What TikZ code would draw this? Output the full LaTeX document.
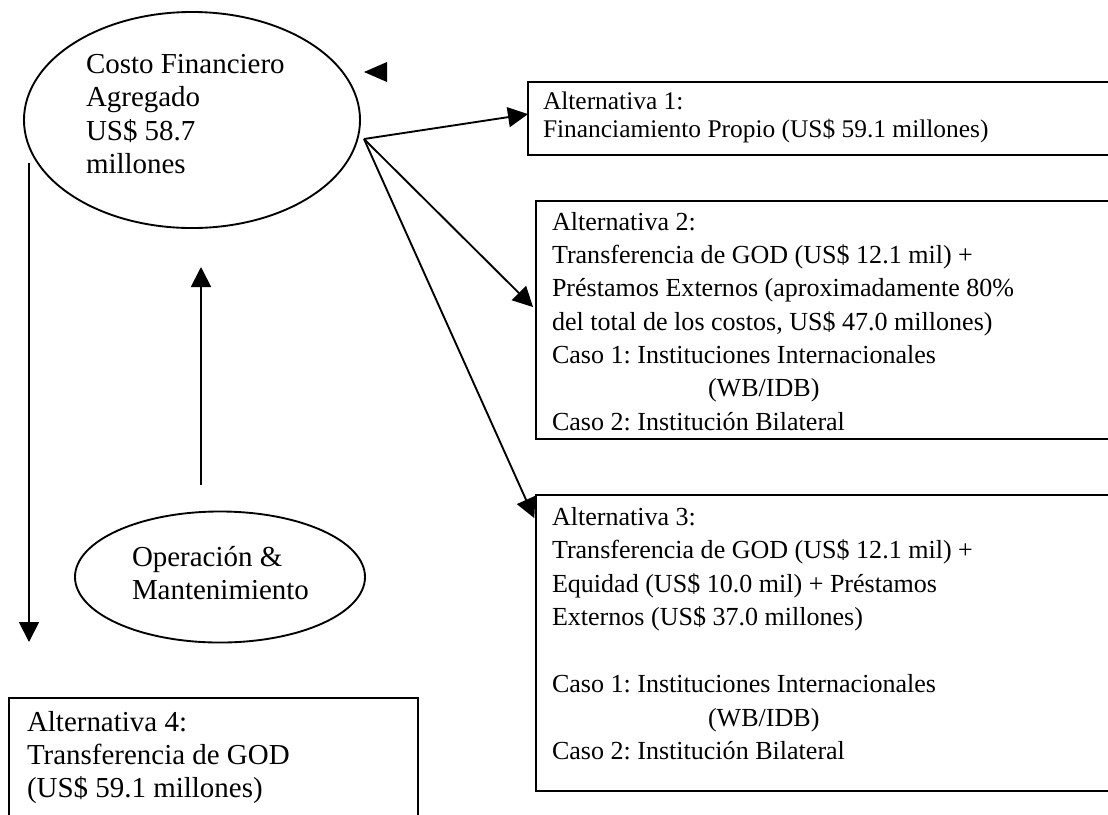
\documentclass[tikz,border=0pt]{standalone}
\usepackage{fontspec}
\setmainfont{Liberation Serif}
\usetikzlibrary{arrows.meta,calc,shapes.geometric}
\frenchspacing
\begin{document}
\begin{tikzpicture}[x=0.48pt,y=-0.48pt,
  every node/.style={inner sep=0pt, outer sep=0pt},
  line/.style={line width=0.9pt},
  arr/.style={line, -{Triangle[length=9.6pt,width=9.6pt]}},
  bubble/.style={draw, line width=0.9pt, ellipse},
  box/.style={draw, line width=0.9pt, rectangle, anchor=north west},
  txtbig/.style={anchor=north west, align=left, font=\fontsize{13.9}{16.1}\selectfont},
  txtmid/.style={anchor=north west, align=left, font=\fontsize{12.5}{16}\selectfont},
  txtsmall/.style={anchor=north west, align=left, font=\fontsize{12.2}{13.6}\selectfont},
]
\useasboundingbox (0,0) rectangle (1108,814);
\clip (0,0) rectangle (1108,814);
\fill[white] (0,0) rectangle (1108,814);

% ellipses
\node[bubble, minimum width=161.3pt, minimum height=103.7pt] (cost) at (192,120) {};
\node[txtbig] (costt) at (86,54) {Costo Financiero\\Agregado\\US\$ 58.7\\millones};

\node[bubble, minimum width=139.2pt, minimum height=62.9pt] (om) at (220,577) {};
\node[txtbig, font=\fontsize{13.9}{15.8}\selectfont] (omt) at (132,546) {Operación \&\\Mantenimiento};

% boxes
\node[box, minimum width=289pt, minimum height=35.04pt] (a1) at (528,82) {};
\node[txtsmall] (a1t) at (543,92) {Alternativa 1:\\Financiamiento Propio (US\$ 59.1 millones)};

\node[box, minimum width=285.1pt, minimum height=114.24pt] (a2) at (536,201) {};
\node[txtmid] (a2t) at (552,212) {Alternativa 2:\\Transferencia de GOD (US\$ 12.1 mil) +\\Préstamos Externos (aproximadamente 80\%\\del total de los costos, US\$ 47.0 millones)\\Caso 1: Instituciones Internacionales\\\hspace*{74.9pt}(WB/IDB)\\Caso 2: Institución Bilateral};

\node[box, minimum width=285.1pt, minimum height=142.08pt] (a3) at (536,495) {};
\node[txtmid, font=\fontsize{12.5}{16.1}\selectfont] (a3t) at (552,507) {Alternativa 3:\\Transferencia de GOD (US\$ 12.1 mil) +\\Equidad (US\$ 10.0 mil) + Préstamos\\Externos (US\$ 37.0 millones)\\\mbox{}\\Caso 1: Instituciones Internacionales\\\hspace*{74.9pt}(WB/IDB)\\Caso 2: Institución Bilateral};

\node[box, minimum width=196.32pt, minimum height=63.36pt] (a4) at (9,698) {};
\node[txtbig, font=\fontsize{13.9}{16}\selectfont] (a4t) at (27,711) {Alternativa 4:\\Transferencia de GOD\\(US\$ 59.1 millones)};

% connectors
\coordinate (src) at (364,139);
\draw[arr] (src) -- ($(a1.north west)!0.44!(a1.south west)$);
\draw[arr, shorten >=2pt] (src) -- ($(a2.north west)!0.458!(a2.south west)$);
\draw[arr, shorten >=2pt] (src) -- ($(a3.north west)!0.091!(a3.south west)$);

\coordinate (upS) at (201,485);
\coordinate (upE) at (201,267);
\draw[arr] (upS) -- (upE);

\coordinate (dnS) at (29,163);
\coordinate (dnE) at (29,642);
\draw[arr] (dnS) -- (dnE);

% stray arrowhead
\fill (364,72) -- (387,62) -- (387,82) -- cycle;
\end{tikzpicture}
\end{document}
